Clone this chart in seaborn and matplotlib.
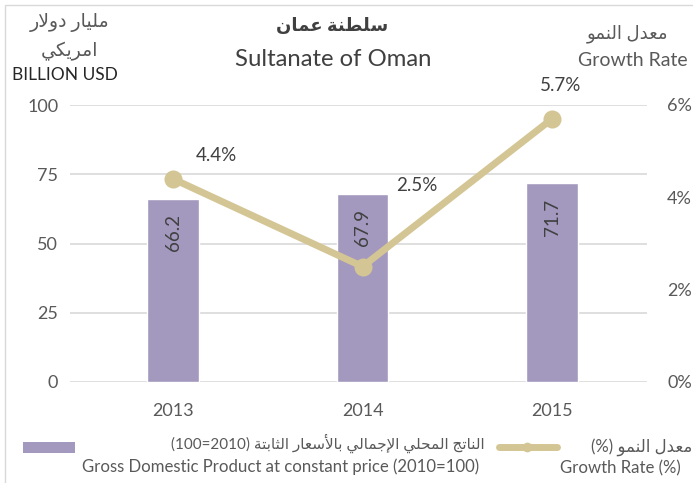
import matplotlib
matplotlib.use("Agg")
import matplotlib.pyplot as plt
import seaborn as sns
import pandas as pd
from matplotlib.patches import Rectangle
from matplotlib.lines import Line2D

# ---------------- data ----------------
years = ["2013", "2014", "2015"]
gdp = [66.2, 67.9, 71.7]
growth = [4.4, 2.5, 5.7]
left_ticks = [0, 25, 50, 75, 100]
right_ticks = [0, 2, 4, 6]

# ---------------- simple Arabic shaping ----------------
FORMS = {
    'ا': (0xFE8D, 0xFE8E, None, None), 'أ': (0xFE83, 0xFE84, None, None),
    'إ': (0xFE87, 0xFE88, None, None), 'آ': (0xFE81, 0xFE82, None, None),
    'ب': (0xFE8F, 0xFE90, 0xFE91, 0xFE92), 'ة': (0xFE93, 0xFE94, None, None),
    'ت': (0xFE95, 0xFE96, 0xFE97, 0xFE98), 'ث': (0xFE99, 0xFE9A, 0xFE9B, 0xFE9C),
    'ج': (0xFE9D, 0xFE9E, 0xFE9F, 0xFEA0), 'ح': (0xFEA1, 0xFEA2, 0xFEA3, 0xFEA4),
    'د': (0xFEA9, 0xFEAA, None, None), 'ر': (0xFEAD, 0xFEAE, None, None),
    'س': (0xFEB1, 0xFEB2, 0xFEB3, 0xFEB4), 'ط': (0xFEC1, 0xFEC2, 0xFEC3, 0xFEC4),
    'ع': (0xFEC9, 0xFECA, 0xFECB, 0xFECC), 'ك': (0xFED9, 0xFEDA, 0xFEDB, 0xFEDC),
    'ل': (0xFEDD, 0xFEDE, 0xFEDF, 0xFEE0), 'م': (0xFEE1, 0xFEE2, 0xFEE3, 0xFEE4),
    'ن': (0xFEE5, 0xFEE6, 0xFEE7, 0xFEE8), 'و': (0xFEED, 0xFEEE, None, None),
    'ي': (0xFEF1, 0xFEF2, 0xFEF3, 0xFEF4),
}
LAM_ALEF = {'ا': (0xFEFB, 0xFEFC), 'أ': (0xFEF7, 0xFEF8),
            'إ': (0xFEF9, 0xFEFA), 'آ': (0xFEF5, 0xFEF6)}


def _shape(text):
    units = []
    i = 0
    while i < len(text):
        c = text[i]
        if c == 'ل' and i + 1 < len(text) and text[i + 1] in LAM_ALEF:
            units.append(('LA', text[i + 1]))
            i += 2
        else:
            units.append(('C', c))
            i += 1

    def dual(u):
        return u is not None and u[0] == 'C' and u[1] in FORMS and FORMS[u[1]][2] is not None

    def arabic(u):
        return u is not None and (u[0] == 'LA' or u[1] in FORMS)

    out = []
    for j, (t, c) in enumerate(units):
        prev = units[j - 1] if j > 0 else None
        nxt = units[j + 1] if j + 1 < len(units) else None
        jp = dual(prev)
        if t == 'LA':
            iso, fin = LAM_ALEF[c]
            out.append(chr(fin if jp else iso))
            continue
        if c not in FORMS:
            out.append(c)
            continue
        f = FORMS[c]
        jn = f[2] is not None and arabic(nxt)
        if jp and jn:
            code = f[3]
        elif jp:
            code = f[1]
        elif jn:
            code = f[2]
        else:
            code = f[0]
        out.append(chr(code))
    return ''.join(out)


def ar(text):
    return _shape(text)[::-1]


# ---------------- style ----------------
sns.set_theme(style="white")
FAM = ['Lato', 'DejaVu Sans']
plt.rcParams['font.family'] = FAM

BAR_C = '#A398BE'
LINE_C = '#D4C594'
GRID_C = '#D9D9D9'
TXT = '#595959'
DARK = '#404040'

W, H = 693, 483
fig = plt.figure(figsize=(W / 100, H / 100), dpi=100)


def fx(px):
    return px / W


def fy(py):
    return 1 - py / H


ax = fig.add_axes([fx(70), fy(382), fx(647) - fx(70), fy(105) - fy(382)])

df = pd.DataFrame({"year": years, "gdp": gdp, "growth": growth})
sns.barplot(data=df, x="year", y="gdp", color=BAR_C, width=0.27, ax=ax,
            saturation=1, zorder=2)
ax.set_xlim(-0.5435, 2.501)
ax.set_ylim(0, 100)
ax.set_yticks(left_ticks)
ax.set_yticklabels([str(t) for t in left_ticks])
ax.grid(axis='y', color=GRID_C, lw=1.2, zorder=0)
ax.set_axisbelow(True)
for s in ax.spines.values():
    s.set_visible(False)
ax.tick_params(axis='y', length=0, pad=8.5, labelsize=13, labelcolor=TXT)
ax.tick_params(axis='x', length=0, pad=15, labelsize=13, labelcolor=TXT)
ax.set_xlabel("")
ax.set_ylabel("")

for i, v in enumerate(gdp):
    ax.annotate(f"{v:.1f}", xy=(i, v), xytext=(0, -24.5), textcoords='offset points',
                ha='center', va='center', rotation=90, fontsize=13.5, color=DARK)

ax2 = ax.twinx()
sns.lineplot(data=df, x="year", y="growth", color=LINE_C, lw=5, marker='o',
             markersize=13, markeredgewidth=0, ax=ax2, zorder=3, sort=False)
ax2.set_ylim(0, 6)
ax2.set_yticks(right_ticks)
ax2.set_yticklabels([f"{t}%" for t in right_ticks])
ax2.set_xlim(-0.5435, 2.501)
for s in ax2.spines.values():
    s.set_visible(False)
ax2.tick_params(axis='y', length=0, pad=14.4, labelsize=13, labelcolor=TXT)
ax2.set_ylabel("")
ax2.set_xlabel("")
ax.set_xticks(range(len(years)))
ax.set_xticklabels(years)

label_offsets = [(31, 16.6), (38.9, 58.3), (5.8, 23.8)]
for i, v in enumerate(growth):
    ax2.annotate(f"{v}%", xy=(i, v), xytext=label_offsets[i], textcoords='offset points',
                 ha='center', va='center', fontsize=13.5, color=DARK)

# ---------------- titles & headers ----------------
fig.text(fx(332), fy(25), ar("سلطنة عمان"), ha='center', va='center',
         fontsize=13, fontweight='bold', color=DARK, family=FAM)
fig.text(fx(333), fy(59), "Sultanate of Oman", ha='center', va='center',
         fontsize=17.2, color=DARK, family=FAM)

fig.text(fx(70), fy(23), ar("مليار دولار"), ha='center', va='center',
         fontsize=13.6, color=TXT, family=FAM)
fig.text(fx(70), fy(51), ar("امريكي"), ha='center', va='center',
         fontsize=13.6, color=TXT, family=FAM)
fig.text(fx(65), fy(75), "BILLION USD", ha='center', va='center',
         fontsize=12.5, color='#262626', family=FAM)

fig.text(fx(627), fy(34), ar("معدل النمو"), ha='center', va='center',
         fontsize=13, color=TXT, family=FAM)
fig.text(fx(633), fy(60), "Growth Rate", ha='center', va='center',
         fontsize=14, color=TXT, family=FAM)

# ---------------- legend ----------------
fig.add_artist(Rectangle((fx(23), fy(453)), fx(75) - fx(23), fy(442) - fy(453),
                         transform=fig.transFigure, color=BAR_C, lw=0))
fig.text(fx(485), fy(443), "(100=2010) " + ar("الناتج المحلي الإجمالي بالأسعار الثابتة"),
         ha='right', va='center', fontsize=11, color=TXT, family=FAM)
fig.text(fx(82), fy(467), "Gross Domestic Product at constant price (2010=100)",
         ha='left', va='center', fontsize=12.1, color=TXT, family=FAM)

fig.add_artist(Line2D([fx(499), fx(557)], [fy(447), fy(447)], transform=fig.transFigure,
                      color=LINE_C, lw=5, solid_capstyle='round'))
fig.add_artist(Line2D([fx(527)], [fy(447)], transform=fig.transFigure,
                      color=LINE_C, marker='o', markersize=7, markeredgewidth=0))
fig.text(fx(692), fy(447), "(%) " + ar("معدل النمو"), ha='right', va='center',
         fontsize=12, color=TXT, family=FAM)
fig.text(fx(560), fy(468), "Growth Rate (%)", ha='left', va='center',
         fontsize=12.1, color=TXT, family=FAM)

# border
fig.add_artist(Rectangle((fx(5), fy(H + 5)), 1, fy(5) - fy(H + 5), transform=fig.transFigure,
                         fill=False, edgecolor=GRID_C, lw=1))

fig.savefig("out.png", dpi=100)
